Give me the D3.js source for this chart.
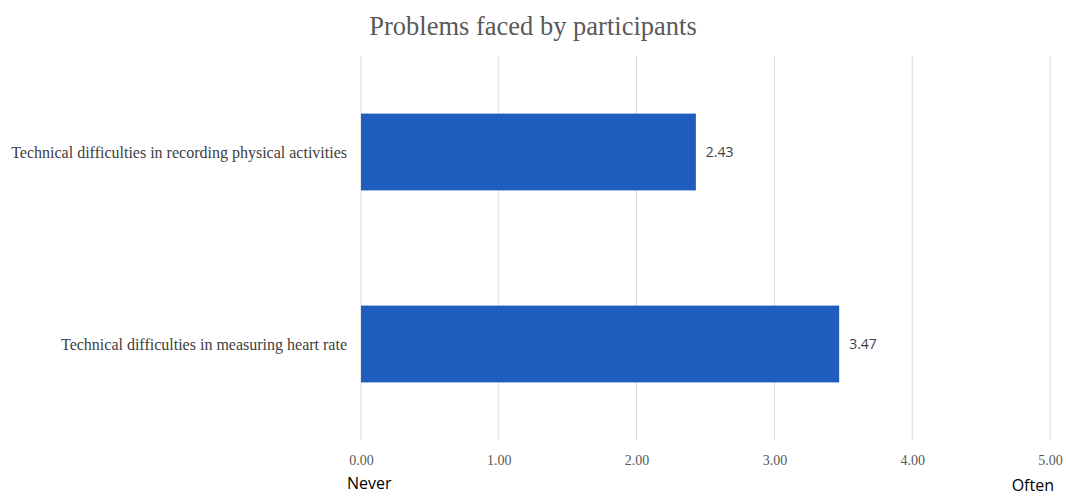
<!DOCTYPE html>
<html>
<head>
<meta charset="utf-8">
<script src="https://cdn.jsdelivr.net/npm/d3@7"></script>
<style>
  html, body { margin: 0; padding: 0; background: #fff; }
  svg { display: block; }
</style>
</head>
<body>
<svg id="chart" width="1066" height="496"></svg>
<script>
// Mean frequency ratings (0 = never, 5 = often)
const categories = [
  "Technical difficulties in recording physical activities",
  "Technical difficulties in measuring heart rate"
];
const values = [2.43, 3.47];
const tickValues = [0, 1, 2, 3, 4, 5];
const scaleEnds = ["Never", "Often"];
const title = "Problems faced by participants";

const svg = d3.select("#chart");
const W = 1066, H = 496;
const m = { left: 361, right: 16, top: 56, bottom: 56 };

const x = d3.scaleLinear().domain([0, 5]).range([m.left, W - m.right]);
const y = d3.scaleBand().domain(categories).range([m.top, H - m.bottom]).paddingInner(0.6).paddingOuter(0.3);

const serif = "'Liberation Serif', 'Times New Roman', serif";
const sans = "'Open Sans', 'Noto Sans', sans-serif";

// Title
svg.append("text")
  .attr("x", 533).attr("y", 35)
  .attr("text-anchor", "middle")
  .attr("font-family", serif).attr("font-size", 26.5)
  .attr("fill", "#595959")
  .text(title);

// Vertical gridlines
svg.append("g").selectAll("line")
  .data(tickValues)
  .join("line")
  .attr("x1", d => x(d)).attr("x2", d => x(d))
  .attr("y1", m.top).attr("y2", H - m.bottom)
  .attr("stroke", "#d9d9d9").attr("stroke-width", 1);

// Bottom axis tick labels
const xAxis = d3.axisBottom(x).tickValues(tickValues).tickFormat(d3.format(".2f")).tickSize(0).tickPadding(0);
const gx = svg.append("g").attr("transform", `translate(0,${H - m.bottom + 25})`).call(xAxis);
gx.select(".domain").remove();
gx.selectAll("text")
  .attr("dy", null)
  .attr("y", 0)
  .attr("font-family", serif).attr("font-size", 14)
  .attr("fill", "#595959");

// Scale end labels
svg.append("text")
  .attr("x", x(0) - 14).attr("y", 489)
  .attr("font-family", sans).attr("font-size", 16).attr("font-weight", 500).attr("fill", "#000")
  .text(scaleEnds[0]);
svg.append("text")
  .attr("x", x(5) + 4).attr("y", 491)
  .attr("text-anchor", "end")
  .attr("font-family", sans).attr("font-size", 16).attr("font-weight", 500).attr("fill", "#000")
  .text(scaleEnds[1]);

const data = categories.map((c, i) => ({ c, v: values[i] }));

// Bars
svg.append("g").selectAll("rect")
  .data(data)
  .join("rect")
  .attr("x", x(0))
  .attr("y", d => y(d.c))
  .attr("width", d => x(d.v) - x(0))
  .attr("height", y.bandwidth())
  .attr("fill", "#1f5dbf");

// Value labels
svg.append("g").selectAll("text")
  .data(data)
  .join("text")
  .attr("x", d => x(d.v) + 10)
  .attr("y", d => y(d.c) + y.bandwidth() / 2)
  .attr("dy", "0.35em")
  .attr("font-family", sans).attr("font-size", 14)
  .attr("fill", "#404040")
  .text(d => d3.format(".2f")(d.v));

// Category labels
svg.append("g").selectAll("text")
  .data(data)
  .join("text")
  .attr("x", x(0) - 14)
  .attr("y", d => y(d.c) + y.bandwidth() / 2)
  .attr("dy", "0.35em")
  .attr("text-anchor", "end")
  .attr("font-family", serif).attr("font-size", 16)
  .attr("fill", "#404040")
  .text(d => d.c);
</script>
</body>
</html>
